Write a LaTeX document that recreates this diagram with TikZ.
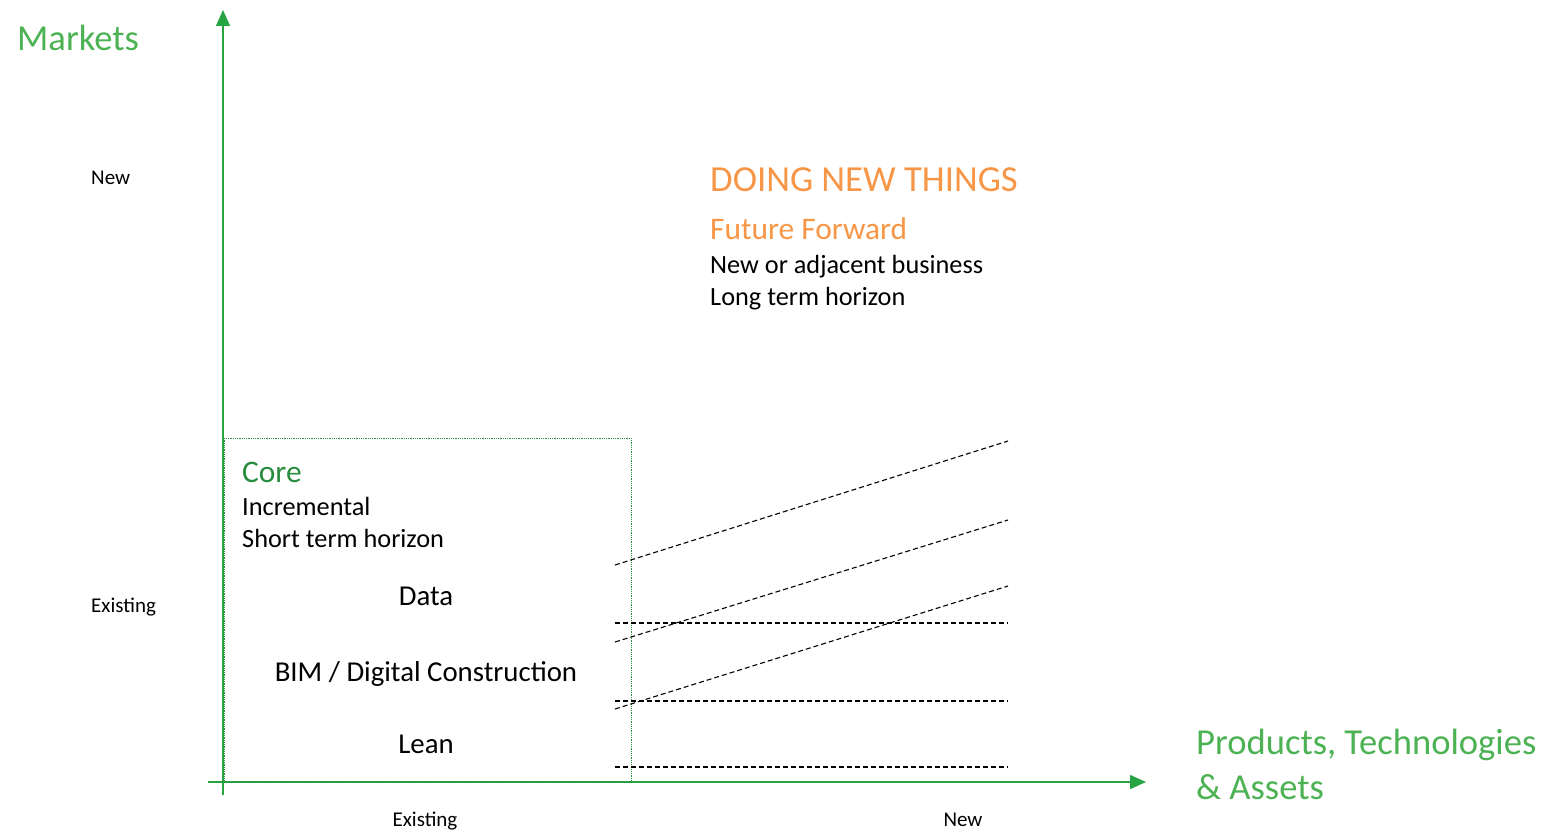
\documentclass[tikz,border=0pt]{standalone}
\usepackage{fontspec}
\setmainfont{Carlito}
\usetikzlibrary{arrows.meta,positioning}
\definecolor{axisgreen}{RGB}{38,163,66}
\definecolor{labelgreen}{RGB}{76,178,84}
\definecolor{coregreen}{RGB}{40,140,62}
\definecolor{futureorange}{RGB}{247,150,70}
\tikzstyle{axis} = [draw=axisgreen, line width=1.4pt, -{Triangle[length=16pt,width=14pt]}]
\tikzstyle{axis_label} = [text=labelgreen, font=\fontsize{36.6}{40}\selectfont, inner sep=0pt, anchor=base west]
\tikzstyle{tick_label} = [font=\fontsize{21}{24}\selectfont, inner sep=0pt]
\tikzstyle{heading} = [text=futureorange, font=\fontsize{36.7}{40}\selectfont, inner sep=0pt, anchor=base west]
\tikzstyle{sub_heading} = [font=\fontsize{31.4}{34}\selectfont, inner sep=0pt]
\tikzstyle{body_text} = [font=\fontsize{26.3}{30}\selectfont, inner sep=0pt]
\tikzstyle{band_text} = [font=\fontsize{28.8}{32}\selectfont, inner sep=0pt]
\tikzstyle{band_line} = [draw, line width=1.1pt, dash pattern=on 5pt off 3pt]

\begin{document}
\begin{tikzpicture}[x=1pt, y=-1pt]
	\useasboundingbox (0,0) rectangle (1554,832);
	
	% axes
	\coordinate (y_start) at (223,795);
	\coordinate (y_end) at (223,10);
	\coordinate (x_start) at (208,782);
	\coordinate (x_end) at (1146,782);
	\draw[axis] (y_start) -- (y_end);
	\draw[axis] (x_start) -- (x_end);
	\node[axis_label] (markets) at (17,51) {Markets};
	\node[axis_label] (products) at (1196,754) {Products, Technologies};
	\node[axis_label, below=45pt of products.base west, anchor=base west] (assets) {\& Assets};
	
	\node[tick_label, anchor=base west] (new_y) at (91,184) {New};
	\node[tick_label, anchor=base west] (existing_y) at (91,612) {Existing};
	\node[tick_label, anchor=base] (existing_x) at (425,826) {Existing};
	\node[tick_label, anchor=base] (new_x) at (963,826) {New};
	
	% core box
	\node[draw=coregreen, densely dotted, line width=0.8pt, minimum width=407pt, minimum height=344pt, anchor=north west] (core_box) at (224,438) {};
	\node[sub_heading, text=coregreen, anchor=base west] (core) at (242,482) {Core};
	\node[body_text, below=33pt of core.base west, anchor=base west] (incremental) {Incremental};
	\node[body_text, below=32pt of incremental.base west, anchor=base west] (short_term) {Short term horizon};
	\node[band_text, anchor=base] (data) at (426,605) {Data};
	\node[band_text, below=76pt of data.base, anchor=base] (bim) {BIM / Digital Construction};
	\node[band_text, below=72pt of bim.base, anchor=base] (lean) {Lean};
	
	% doing new things
	\node[heading] (new_things) at (710,191) {DOING NEW THINGS};
	\node[sub_heading, text=futureorange, below=48pt of new_things.base west, anchor=base west] (future) {Future Forward};
	\node[body_text, below=34pt of future.base west, anchor=base west] (adjacent) {New or adjacent business};
	\node[body_text, below=32pt of adjacent.base west, anchor=base west] (long_term) {Long term horizon};
	
	% draw lines
	\coordinate (h1_a) at (615,623);
	\coordinate (h1_b) at (1008,623);
	\coordinate (h2_a) at (615,701);
	\coordinate (h2_b) at (1008,701);
	\coordinate (h3_a) at (615,767);
	\coordinate (h3_b) at (1008,767);
	\coordinate (d1_a) at (615,565);
	\coordinate (d1_b) at (1008,441);
	\coordinate (d2_a) at (615,642);
	\coordinate (d2_b) at (1008,520);
	\coordinate (d3_a) at (615,709);
	\coordinate (d3_b) at (1008,586);
	\draw[band_line] (h1_a) -- (h1_b);
	\draw[band_line] (h2_a) -- (h2_b);
	\draw[band_line] (h3_a) -- (h3_b);
	\draw[band_line] (d1_a) -- (d1_b);
	\draw[band_line] (d2_a) -- (d2_b);
	\draw[band_line] (d3_a) -- (d3_b);
\end{tikzpicture}
\end{document}
